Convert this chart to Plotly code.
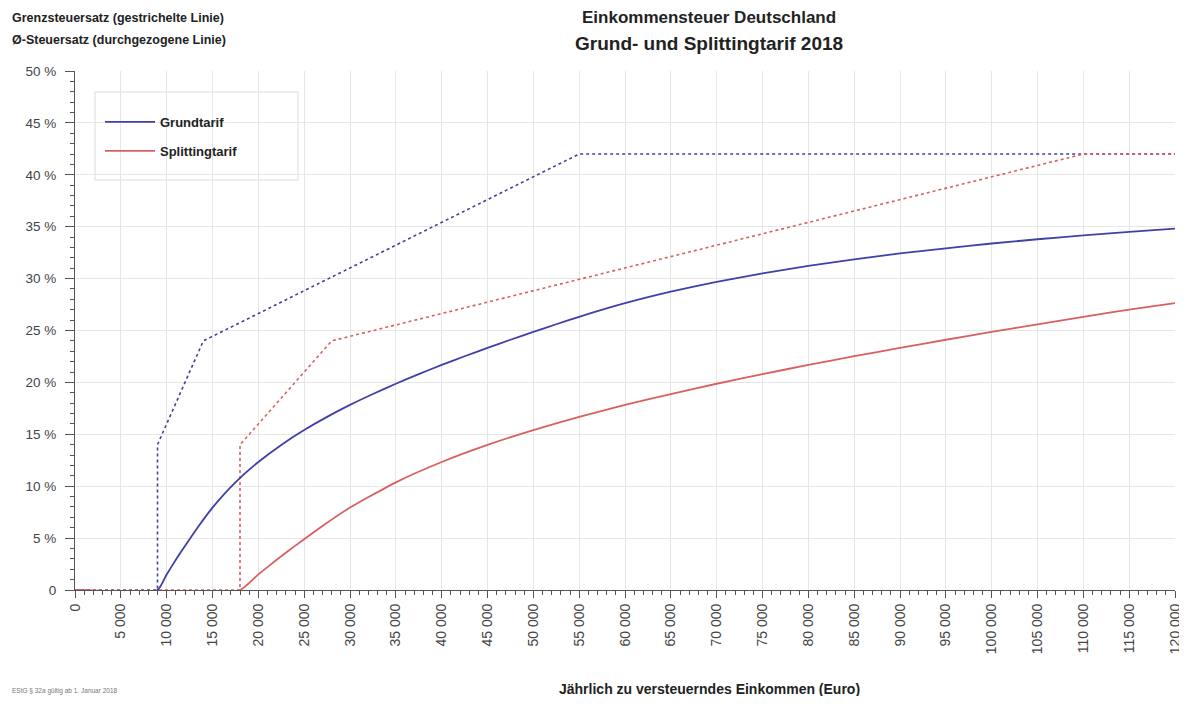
import plotly.graph_objects as go

# ---- data ----
grund_x = [0, 9000, 10000, 11000, 12000, 13000, 14000, 15000, 17500, 20000, 22500,
           25000, 27500, 30000, 32500, 35000, 37500, 40000, 42500, 45000, 47500,
           50000, 52500, 55000, 60000, 65000, 70000, 75000, 80000, 85000, 90000,
           95000, 100000, 105000, 110000, 115000, 120000]
grund_avg = [0, 0, 1.50, 2.91, 4.25, 5.54, 6.78, 7.94, 10.37, 12.33, 13.98,
             15.41, 16.68, 17.83, 18.88, 19.87, 20.80, 21.68, 22.52, 23.32, 24.11,
             24.86, 25.60, 26.32, 27.63, 28.74, 29.68, 30.50, 31.22, 31.86, 32.42,
             32.92, 33.38, 33.79, 34.16, 34.50, 34.82]

split_x = [0, 18000, 20000, 22000, 24000, 26000, 28000, 30000, 35000, 40000, 45000,
           50000, 55000, 60000, 65000, 70000, 75000, 80000, 85000, 90000, 95000,
           100000, 105000, 110000, 115000, 120000]
split_avg = [0, 0, 1.50, 2.91, 4.25, 5.54, 6.78, 7.94, 10.37, 12.33, 13.98,
             15.41, 16.68, 17.83, 18.88, 19.87, 20.80, 21.68, 22.52, 23.32, 24.11,
             24.86, 25.60, 26.32, 27.01, 27.63]

grund_marg_x = [0, 9000, 9000, 14000, 55000, 120000]
grund_marg = [0, 0, 14, 24, 42, 42]
split_marg_x = [0, 18000, 18000, 28000, 110000, 120000]
split_marg = [0, 0, 14, 24, 42, 42]

x_ticks = list(range(0, 120001, 5000))
y_ticks = [0, 5, 10, 15, 20, 25, 30, 35, 40, 45, 50]
y_labels = ["0"] + [f"{v} %" for v in y_ticks[1:]]

BLUE = "#4040a8"
RED = "#d86060"
FONT = "Liberation Sans, Arial, sans-serif"

# page has an 8px body margin; figure sized so it fits the 1187x704 window
OFF = 8
W, H = 1177, 688
L, R, T, B = 67, 10, 63, 106
PW, PH = W - L - R, H - T - B


def px(x):  # page pixel -> paper fraction
    return (x - OFF - L) / PW


def py(y):
    return (H - B - (y - OFF)) / PH


fig = go.Figure()
fig.add_trace(go.Scatter(x=grund_marg_x, y=grund_marg, mode="lines",
                         line=dict(color=BLUE, width=1.6, dash="3px,3px"),
                         showlegend=False, hoverinfo="skip"))
fig.add_trace(go.Scatter(x=split_marg_x, y=split_marg, mode="lines",
                         line=dict(color=RED, width=1.6, dash="3px,3px"),
                         showlegend=False, hoverinfo="skip"))
fig.add_trace(go.Scatter(x=grund_x, y=grund_avg, mode="lines", name="Grundtarif",
                         line=dict(color=BLUE, width=1.8, shape="spline", smoothing=0.5),
                         legendgroup="g"))
fig.add_trace(go.Scatter(x=split_x, y=split_avg, mode="lines", name="Splittingtarif",
                         line=dict(color=RED, width=1.8, shape="spline", smoothing=0.5),
                         legendgroup="s"))

fig.update_layout(
    width=W, height=H,
    margin=dict(l=L, r=R, t=T, b=B, autoexpand=False),
    paper_bgcolor="white", plot_bgcolor="white",
    separators=", ",
    font=dict(family=FONT, color="#333333", size=12),
    legend=dict(x=px(100), y=py(107), xanchor="left", yanchor="top",
                bgcolor="rgba(0,0,0,0)", borderwidth=0,
                font=dict(family=FONT, size=13, color="#222222", weight="bold"),
                tracegroupgap=9, itemwidth=50, valign="middle"),
)
# legend frame
fig.add_shape(type="rect", xref="paper", yref="paper", x0=px(95), x1=px(298),
              y0=py(180), y1=py(92), line=dict(color="#dcdcdc", width=1),
              fillcolor="white", layer="below")
fig.update_xaxes(range=[0, 120000], tickvals=x_ticks, tickformat=",d", tickangle=-90,
                 automargin=False, layer="below traces", ticklabeloverflow="allow",
                 showgrid=True, gridcolor="#e6e6e6", gridwidth=1,
                 showline=True, linecolor="#555555", linewidth=1,
                 ticks="outside", ticklen=7, tickcolor="#555555",
                 minor=dict(dtick=1000, ticks="outside", ticklen=4, tickcolor="#555555",
                            showgrid=False),
                 tickfont=dict(size=14, color="#444444"), zeroline=False)
fig.update_yaxes(range=[0, 50], tickvals=y_ticks, ticktext=y_labels,
                 automargin=False, layer="below traces", ticklabeloverflow="allow",
                 ticklabelstandoff=6,
                 showgrid=True, gridcolor="#e6e6e6", gridwidth=1,
                 showline=True, linecolor="#555555", linewidth=1,
                 ticks="outside", ticklen=9, tickcolor="#555555",
                 minor=dict(dtick=1, ticks="outside", ticklen=4, tickcolor="#555555",
                            showgrid=False),
                 tickfont=dict(size=13.5, color="#444444"), zeroline=False)

for text, yy in [("<b>Grenzsteuersatz (gestrichelte Linie)</b>", 18),
                 ("<b>Ø-Steuersatz (durchgezogene Linie)</b>", 40)]:
    fig.add_annotation(text=text, xref="paper", yref="paper", x=px(10), y=py(yy),
                       xanchor="left", yanchor="middle", showarrow=False,
                       font=dict(family=FONT, size=12.5, color="#222222"))
fig.add_annotation(text="<b>Einkommensteuer Deutschland</b>", xref="paper", yref="paper",
                   x=px(709), y=py(18), xanchor="center", yanchor="middle",
                   showarrow=False, font=dict(family=FONT, size=17, color="#222222"))
fig.add_annotation(text="<b>Grund- und Splittingtarif 2018</b>", xref="paper", yref="paper",
                   x=px(709), y=py(44), xanchor="center", yanchor="middle",
                   showarrow=False, font=dict(family=FONT, size=19, color="#222222"))
fig.add_annotation(text="<b>Jährlich zu versteuerndes Einkommen (Euro)</b>", xref="paper",
                   yref="paper", x=px(709), y=py(689), xanchor="center", yanchor="middle",
                   showarrow=False, font=dict(family=FONT, size=14, color="#222222"))
fig.add_annotation(text="EStG § 32a gültig ab 1. Januar 2018", xref="paper", yref="paper",
                   x=px(10), y=py(691), xanchor="left", yanchor="middle", showarrow=False,
                   font=dict(family=FONT, size=6.5, color="#777777"))

fig.write_html("out.html")
